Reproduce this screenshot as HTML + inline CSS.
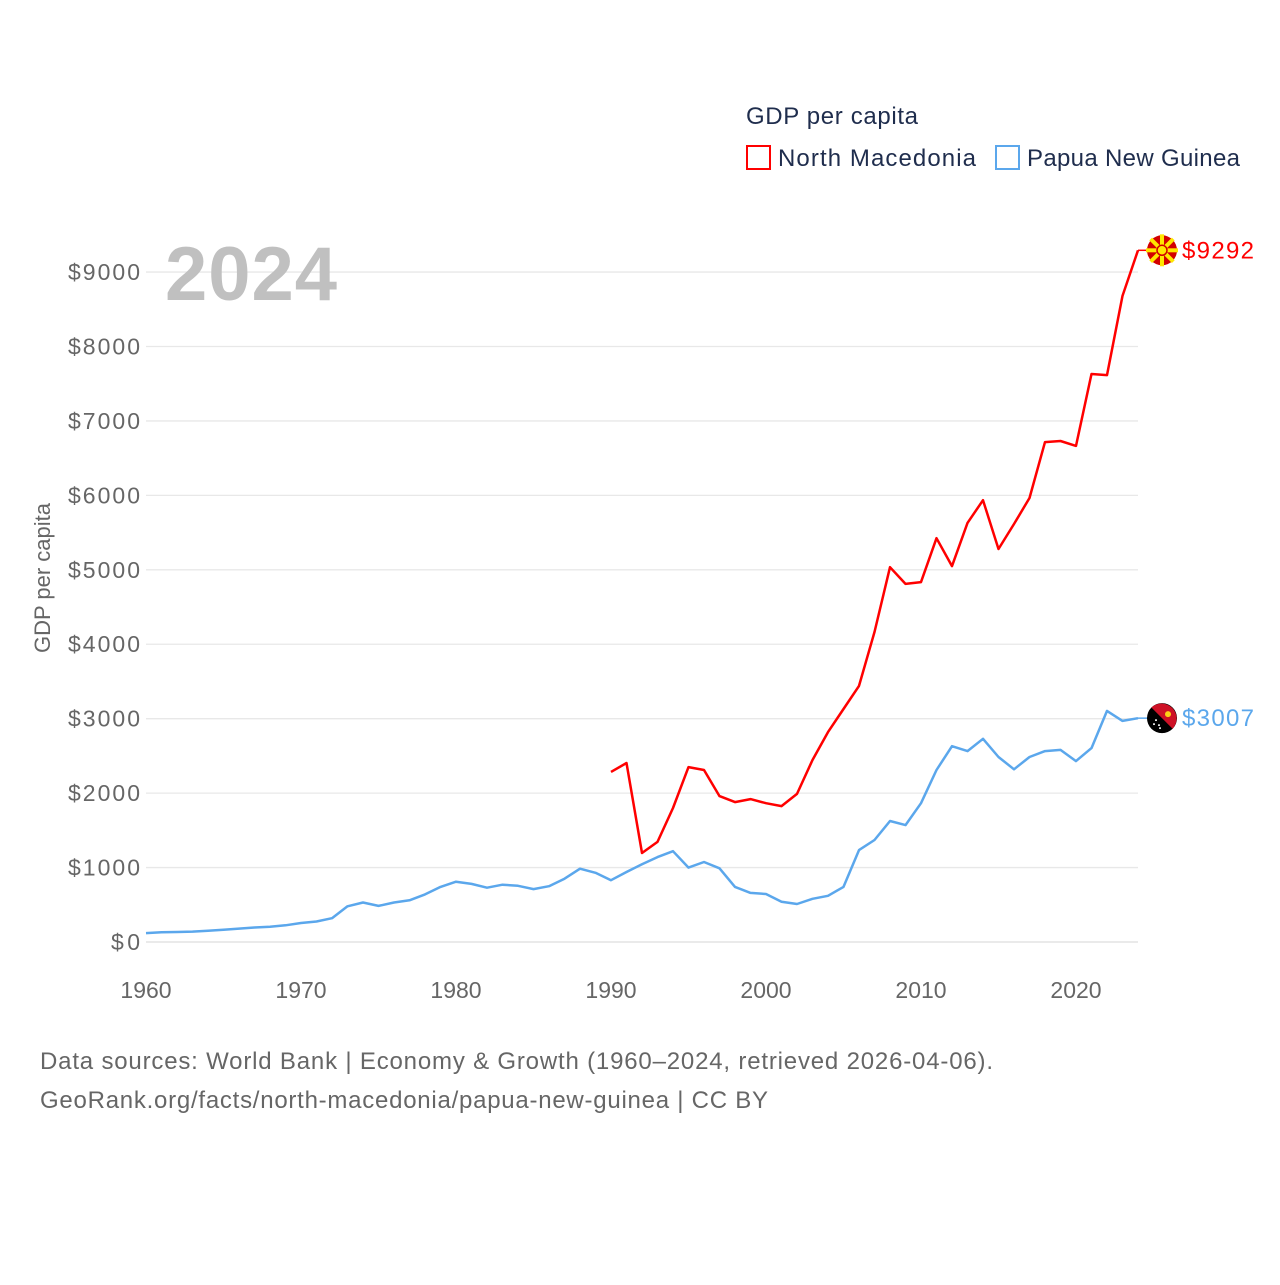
<!DOCTYPE html>
<html><head><meta charset="utf-8"><style>
body{margin:0;background:#fff;font-family:"Liberation Sans",sans-serif;}
svg text{font-family:"Liberation Sans",sans-serif;}
</style></head><body>
<svg id="chart" width="1280" height="1280" xmlns="http://www.w3.org/2000/svg">
<rect width="1280" height="1280" fill="#fff"/>
<g id="grid"></g>
<g id="yticks"></g>
<g id="xticks"></g>
<text x="165" y="300" font-size="76" font-weight="bold" fill="#c0c0c0" textLength="172">2024</text>
<text transform="translate(50,578) rotate(-90)" text-anchor="middle" font-size="22" fill="#666">GDP per capita</text>
<text x="746" y="124" font-size="24" fill="#1f2d4d" textLength="172">GDP per capita</text>
<rect x="747" y="146" width="23" height="23" fill="none" stroke="#ff0000" stroke-width="2"/>
<text x="778" y="166" font-size="24" fill="#1f2d4d" textLength="198">North Macedonia</text>
<rect x="996" y="146" width="23" height="23" fill="none" stroke="#5ba7ec" stroke-width="2"/>
<text x="1027" y="166" font-size="24" fill="#1f2d4d" textLength="213">Papua New Guinea</text>
<g id="series"></g>
<text x="40" y="1069" font-size="24" fill="#666" textLength="953">Data sources: World Bank | Economy &amp; Growth (1960–2024, retrieved 2026-04-06).</text>
<text x="40" y="1108" font-size="24" fill="#666" textLength="728">GeoRank.org/facts/north-macedonia/papua-new-guinea | CC BY</text>
</svg>
<script>
const years=[];for(let y=1960;y<=2024;y++)years.push(y);
const pngValues=[120,130,135,140,150,165,180,195,205,225,255,275,320,480,530,485,530,560,640,740,810,780,730,770,755,710,750,850,985,930,830,940,1045,1140,1220,1000,1075,990,740,660,645,540,510,580,620,740,1235,1370,1625,1570,1865,2310,2630,2565,2730,2485,2320,2485,2565,2580,2430,2605,3105,2970,3007];
const mkdYears=[];for(let y=1990;y<=2024;y++)mkdYears.push(y);
const mkdValues=[2285,2405,1195,1345,1800,2350,2310,1960,1880,1920,1865,1825,1990,2445,2820,3130,3440,4165,5035,4810,4835,5425,5050,5630,5935,5280,5615,5965,6715,6730,6665,7630,7615,8680,9292];
const yTicks=[0,1000,2000,3000,4000,5000,6000,7000,8000,9000];
const xTicks=[1960,1970,1980,1990,2000,2010,2020];
const NS="http://www.w3.org/2000/svg";
const X=yr=>146+(yr-1960)*15.5;
const Y=v=>942-v*0.07444;
function mk(tag,attrs,parent){const e=document.createElementNS(NS,tag);for(const k in attrs)e.setAttribute(k,attrs[k]);parent.appendChild(e);return e;}
const grid=document.getElementById('grid'),yt=document.getElementById('yticks'),xt=document.getElementById('xticks'),ser=document.getElementById('series');
yTicks.forEach(v=>{
 const l=mk('line',{x1:146,x2:1138,y1:Y(v),y2:Y(v),stroke:v===0?'#ddd':'#e8e8e8','stroke-width':1.3},grid);
 
 
 const s='$'+v;
 const t=mk('text',{x:140,y:Y(v)+8,'text-anchor':'end','font-size':23,fill:'#666',textLength:(s.length*14.4).toFixed(0)},yt);
 
 
 t.textContent=s;
});
xTicks.forEach(v=>{
 const t=mk('text',{x:X(v),y:998,'text-anchor':'middle','font-size':23,fill:'#666'},xt);
 
 
 t.textContent=v;
});
function line(xs,vs,color,name){
 const d=xs.map((yr,i)=>(i?'L':'M')+X(yr).toFixed(1)+','+Y(vs[i]).toFixed(1)).join(' ');
 const p=mk('path',{d:d,fill:'none',stroke:color,'stroke-width':2.5,'stroke-linejoin':'round'},ser);
 
 
}
line(years,pngValues,'#5ba7ec','line-papua-new-guinea');
line(mkdYears,mkdValues,'#ff0000','line-north-macedonia');
function endLabel(v,color,name,flag){
 const y=Y(v);
 mk('line',{x1:1138,x2:1150,y1:y,y2:y,stroke:color,'stroke-width':1.5},ser);
 const g=mk('g',{},ser);
 
 
 if(flag==='mkd'){
  mk('circle',{cx:1162,cy:y,r:15,fill:'#d20000'},g);
  for(let a=0;a<8;a++){const r=a*Math.PI/4;mk('line',{x1:1162,y1:y,x2:1162+16*Math.cos(r),y2:y+16*Math.sin(r),stroke:'#ffe600','stroke-width':4},g);}
  mk('circle',{cx:1162,cy:y,r:5,fill:'#ffe600',stroke:'#d20000','stroke-width':1.5},g);
 }else{
  mk('circle',{cx:1162,cy:y,r:15,fill:'#000'},g);
  mk('path',{d:`M${1162-10.6},${y-10.6} A15,15 0 0 1 ${1162+10.6},${y+10.6} Z`,fill:'#ce1126'},g);
  mk('circle',{cx:1168,cy:y-4,r:3,fill:'#fcd116'},g);
  [[-6,2],[-3,7],[-8,6],[-2,10]].forEach(p=>mk('circle',{cx:1162+p[0],cy:y+p[1],r:1,fill:'#fff'},g));
 }
 const t=mk('text',{x:1182,y:y+8,'font-size':24,fill:color,textLength:72},ser);
 
 
 t.textContent='$'+v;
}
endLabel(mkdValues[mkdValues.length-1],'#ff0000','north-macedonia','mkd');
endLabel(pngValues[pngValues.length-1],'#5ba7ec','papua-new-guinea','png');
</script>
</body></html>
